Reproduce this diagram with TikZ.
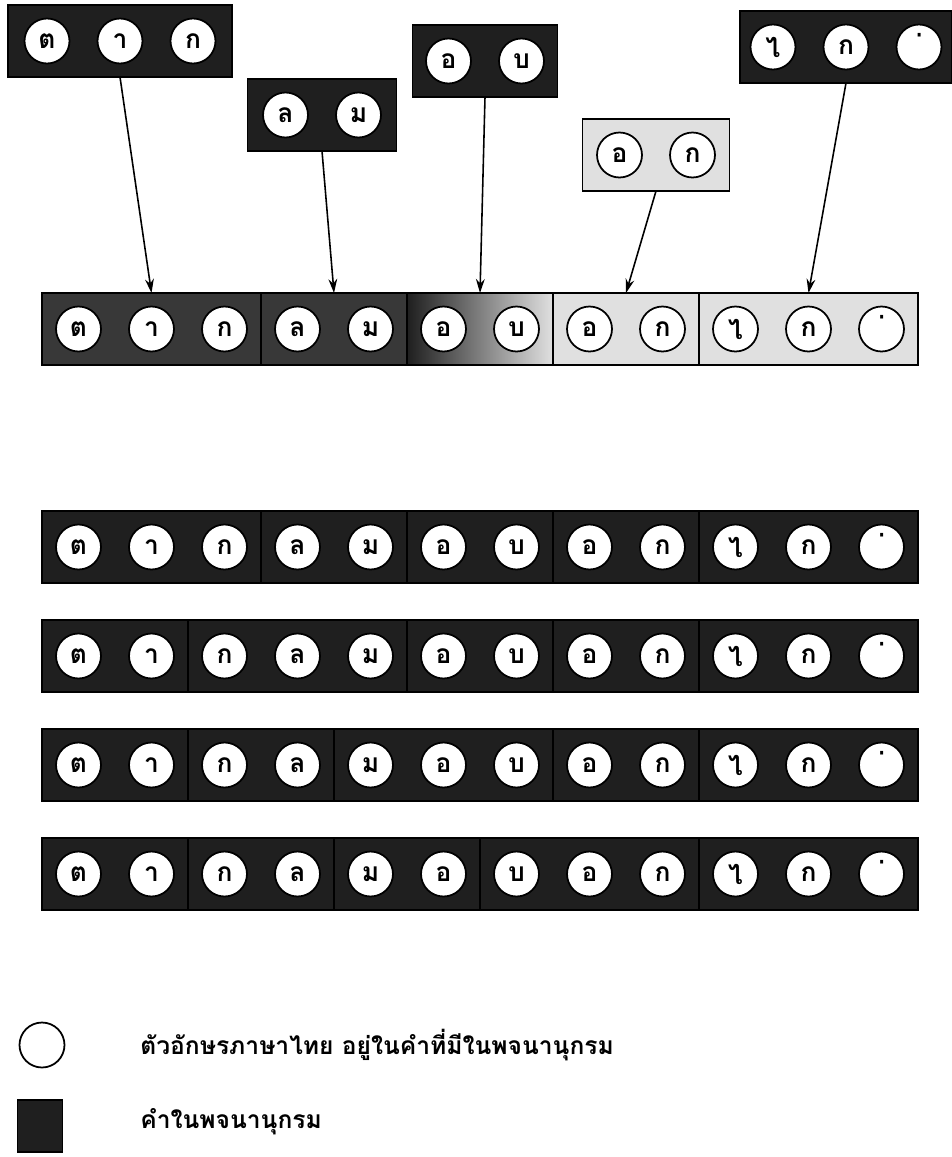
\documentclass[tikz,border=0pt]{standalone}
\usepackage{fontspec}
\newfontfamily\thaifont[Script=Thai]{Loma}
\usetikzlibrary{arrows.meta, calc}
\definecolor{WordDark}{gray}{0.12}
\definecolor{WordMid}{gray}{0.22}
\definecolor{WordLight}{gray}{0.88}
% mai ek on a no-break space, so that no dotted circle is drawn
\newcommand{\maiek}{^^^^00a0^^^^0e48}
\tikzset{
    letter/.style={circle, draw=black, line width=1pt, fill=white, minimum size=0.9cm,
        inner sep=0pt, font=\thaifont\bfseries\fontsize{15}{15}\selectfont},
    word/.style={rectangle, draw=black, line width=1.1pt, minimum height=1.44cm,
        inner sep=0pt, outer sep=0pt},
    dark/.style={word, fill=WordDark},
    mid/.style={word, fill=WordMid},
    light/.style={word, fill=WordLight},
    fade/.style={word, left color=WordDark, right color=WordLight},
    arrow/.style={-{Stealth[length=8pt, width=5pt]}, line width=0.9pt, draw=black},
    legend/.style={anchor=west, inner sep=0pt, font=\thaifont\bfseries\fontsize{14}{16}\selectfont}
}

\begin{document}
\begin{tikzpicture}[x=0.02cm, y=-0.02cm]
    \useasboundingbox (0,0) rectangle (952,1157);

    % Words taken from the dictionary
    \foreach \name/\cx/\cy/\w/\n/\sty/\letters in {
        tTak/120/41/224/3/dark/{ต,า,ก},
        tLom/322/115/149/2/dark/{ล,ม},
        tOb/485/61/145/2/dark/{อ,บ},
        tOk/656/155/147/2/light/{อ,ก},
        tKai/846/47/212/3/dark/{ไ,ก,\maiek}} {
        \node[\sty, minimum width=\w*0.02cm] (\name) at (\cx,\cy) {};
        \foreach \l [count=\i] in \letters
            \node[letter] (\name-\i) at ($(\name.center)+({(\i-(\n+1)/2)*73},0)$) {\l};
    }

    % Sentence cut into words
    \foreach \name/\a/\b/\sty in {mTak/0/3/mid, mLom/3/5/mid, mOb/5/7/fade, mOk/7/9/light, mKai/9/12/light}
        \node[\sty, minimum width={(\b-\a)*1.46cm}] (\name) at ({42+73*(\a+\b)/2},329) {};
    \foreach \l [count=\i] in {ต,า,ก,ล,ม,อ,บ,อ,ก,ไ,ก,\maiek}
        \node[letter] (m-\i) at ({42+36.5+73*(\i-1)},329) {\l};

    % Arrows
    \draw[arrow] (tTak.south) -- (mTak.north);
    \draw[arrow] (tLom.south) -- (mLom.north);
    \draw[arrow] (tOb.south) -- (mOb.north);
    \draw[arrow] (tOk.south) -- (mOk.north);
    \draw[arrow] (tKai.south) -- (mKai.north);

    % Other ways to cut the sentence
    \foreach \r/\cy/\segs in {
        1/547/{0/3,3/5,5/7,7/9,9/12},
        2/656/{0/2,2/5,5/7,7/9,9/12},
        3/765/{0/2,2/4,4/7,7/9,9/12},
        4/874/{0/2,2/4,4/6,6/9,9/12}} {
        \foreach \a/\b [count=\s] in \segs
            \node[dark, minimum width={(\b-\a)*1.46cm}] (w\r-\s) at ({42+73*(\a+\b)/2},\cy) {};
        \foreach \l [count=\i] in {ต,า,ก,ล,ม,อ,บ,อ,ก,ไ,ก,\maiek}
            \node[letter] (l\r-\i) at ({42+36.5+73*(\i-1)},\cy) {\l};
    }

    % Legend
    \node[letter] (legLetter) at (42,1045) {};
    \node[legend] (legLetterText) at (140,1045) {ตัวอักษรภาษาไทย อยู่ในคำที่มีในพจนานุกรม};
    \node[dark, minimum width=0.9cm, minimum height=1.04cm] (legWord) at (40,1126) {};
    \node[legend] (legWordText) at (140,1122) {คำในพจนานุกรม};
\end{tikzpicture}
\end{document}
